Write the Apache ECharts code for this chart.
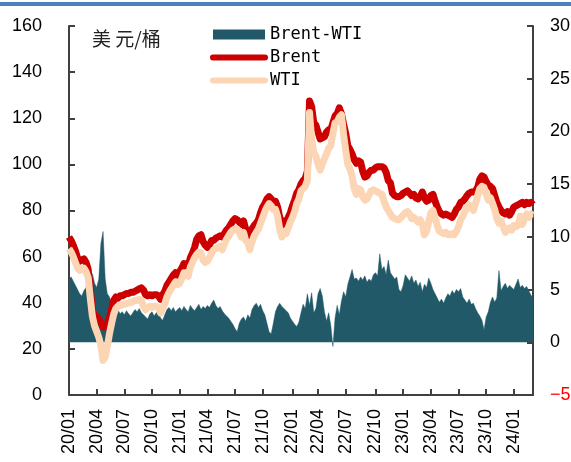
<!DOCTYPE html>
<html>
<head>
<meta charset="utf-8">
<script src="https://cdn.jsdelivr.net/npm/echarts@6/dist/echarts.min.js"></script>
<style>
  html, body { margin: 0; padding: 0; background: #fff; }
  #main { width: 571px; height: 462px; }
</style>
</head>
<body>
<div id="main"></div>
<script>
// weekly points (Fridays) starting 2020-01-03
const firstWeek = '2020-01-03';
const quarterLabels = ['20/01', '20/04', '20/07', '20/10', '21/01', '21/04', '21/07', '21/10',
  '22/01', '22/04', '22/07', '22/10', '23/01', '23/04', '23/07', '23/10', '24/01'];

// Brent, USD/bbl (left axis)
const brent = [
  68.5, 67, 65, 62.5, 59.5, 58, 58.5, 59, 57.5, 54.5, 46, 37, 34,
  34, 33, 31.5, 29.5, 29.5, 31, 33.5, 37, 41, 42.5, 42, 43, 43,
  43.5, 44, 44, 44.5, 44.5, 45, 45.5, 46, 46.5, 45.5, 43.5, 43, 43.5,
  43, 43.5, 43.5, 43, 41.5, 43.5, 45, 47.5, 49, 50.5, 52, 53, 52,
  // 2021
  53.5, 55, 57, 56, 56, 59.5, 61.5, 64, 67.5, 69, 69.5, 66.5, 65,
  64, 65, 67, 67, 68, 68.5, 69, 68.5, 70, 71.5, 72.5, 74, 75.5,
  76.5, 76, 75, 74, 75.5, 72, 71, 69, 72, 73.5, 74.5, 76, 79,
  81.5, 83, 85, 86, 85, 84, 84, 81.5, 77, 73.5, 75.5, 74.5, 77, 79,
  // 2022
  82, 84.5, 87.5, 89, 91.5, 93, 94, 97, 127.5, 125, 118, 117, 114,
  111, 111.5, 112, 114, 115, 115, 118, 121, 122, 124.5, 122, 117.5, 113.5,
  108, 106.5, 104.5, 102, 100.5, 101.5, 101, 97, 94.5, 95, 96.5, 97.5, 97.5,
  98.5, 99, 99, 99, 98.5, 96.5, 93, 92, 87.5, 86.5, 86, 86, 86.5,
  // 2023 - 2024
  87.5, 88, 88.5, 87.5, 86.5, 87, 85.5, 85, 86, 88, 85.5, 84, 84.5,
  86.5, 87, 84, 81.5, 79.5, 78.5, 78, 78.5, 78, 77.5, 77, 78.5, 80.5,
  81.5, 83.5, 84, 85, 86.5, 87.5, 88, 88, 88.5, 90, 93.5, 95, 94.5,
  92.5, 91, 90.5, 89.5, 86.5, 83.5, 81.5, 80, 79, 78.5, 79.5, 78, 79.5,
  81.5, 82, 82.5, 83, 83.5, 82.5, 83.5, 83, 83.5, 82.5
];

// WTI, USD/bbl (left axis)
const wti = [
  63.5, 62, 60, 57.5, 55, 54, 54.5, 55, 53.5, 51, 42, 34, 30,
  27.5, 25, 21.5, 15, 16.5, 21, 26.5, 31, 35, 37.5, 38.5, 39, 39,
  39.5, 39.5, 40, 40, 40.5, 41, 41, 41.5, 41, 38.5, 37, 38, 38.5,
  38, 38.5, 38.5, 38, 35.5, 37.5, 39.5, 42.5, 44.5, 46, 47.5, 49, 48,
  // 2021
  48.5, 50.5, 53, 52, 51.5, 55.5, 57.5, 59.5, 61, 62, 61.5, 58.5, 57.5,
  58, 59.5, 61.5, 63, 63.5, 64, 64.5, 63, 65.5, 67.5, 69, 70.5, 71.5,
  72, 72, 70.5, 68.5, 70.5, 67, 66, 63, 66.5, 69, 70.5, 72, 74.5,
  77, 79.5, 81.5, 83, 82, 80.5, 80.5, 77.5, 72, 68.5, 71, 70, 72.5, 75,
  // 2022
  77, 79.5, 83, 85, 88.5, 89.5, 90.5, 93, 122.5, 111, 105, 103.5, 100,
  97.5, 100, 102.5, 104.5, 107, 108, 113.5, 118, 118.5, 120.5, 121.5, 113, 106,
  100, 98, 95, 89.5, 87, 89.5, 89, 86, 84.5, 85, 87, 88.5, 89,
  88.5, 88, 87.5, 87, 84, 81.5, 80, 78.5, 77, 76.5, 76, 76, 77,
  // 2023 - 2024
  78, 79, 79.5, 78.5, 76.5, 77, 76, 75, 76, 74, 69.5, 71, 75,
  79, 80, 77, 73.5, 71, 70.5, 70, 70.5, 69.5, 69.5, 70, 69.5, 71,
  73, 76, 77.5, 79.5, 81.5, 82.5, 81, 80, 83, 86.5, 89.5, 90.5, 90,
  87, 84.5, 85.5, 83, 80.5, 76.5, 74.5, 75.5, 73, 70.5, 72, 72.5, 71.5,
  73.5, 73, 73.5, 77.5, 74, 76.5, 78.5, 77, 78.5, 78
];

// Brent-WTI spread, USD/bbl (right axis)
const spread = [
  6.0, 6.2, 5.8, 5.4, 5.0, 4.6, 4.4, 4.9, 5.2, 4.8, 4.2, 6.5, 5.6,
  5.2, 6.0, 9.4, 10.5, 6.0, 4.6, 4.3, 3.6, 3.0, 2.8, 3.1, 2.7, 2.9,
  2.6, 3.0, 2.7, 2.5, 2.8, 3.1, 2.9, 3.2, 2.8, 2.6, 2.4, 2.2, 2.7,
  2.9, 2.5, 2.8, 3.0, 2.3, 2.1, 2.6, 3.1, 3.3, 3.0, 3.3, 2.9, 3.1,
  // 2021
  3.3, 3.0, 3.4, 3.1, 2.9, 3.5, 3.2, 3.0, 3.3, 3.6, 3.1, 3.4, 3.2,
  3.5, 3.3, 3.7, 4.0, 3.5, 3.2, 3.4, 3.0, 2.7, 2.5, 2.3, 2.0, 1.7,
  1.3, 1.0, 1.8, 2.2, 2.4, 2.0, 2.6, 2.3, 3.1, 3.5, 3.7, 3.3, 3.6,
  3.0, 2.6, 1.8, 1.0, 0.8, 1.8, 2.9, 3.4, 3.7, 3.4, 3.2, 3.0, 2.8, 2.3,
  // 2022
  2.0, 1.7, 1.5, 1.9, 2.8, 3.6, 3.2, 4.6, 3.5, 4.7, 2.8, 3.2, 4.6,
  5.1, 4.4, 2.9, 2.0, 2.8, 1.6, -0.4, 2.3, 3.5, 2.6, 3.9, 4.8, 4.3,
  5.5, 6.2, 6.9, 6.0, 6.1, 5.8, 6.2, 5.9, 6.3, 5.7, 6.0, 5.8, 6.4,
  6.6, 6.3, 8.4, 6.9, 7.2, 6.4, 7.8, 6.6, 6.3, 6.0, 6.2, 5.0, 4.8,
  // 2023 - 2024
  5.4, 6.4, 6.1, 5.8, 6.3, 5.6, 5.9, 5.3, 5.7, 4.8, 5.5, 5.2, 6.1,
  5.6, 5.0, 4.6, 4.2, 3.8, 4.1, 3.7, 4.2, 4.6, 4.4, 4.9, 4.6, 5.0,
  4.8, 5.1, 4.3, 4.0, 3.7, 4.1, 3.6, 3.7, 3.2, 2.8, 2.5, 2.1, 1.2,
  2.4, 2.9, 3.8, 4.3, 3.8, 4.2, 6.8, 4.9, 5.3, 5.6, 5.1, 5.4, 5.2,
  5.0, 5.5, 6.0, 5.2, 5.4, 5.1, 5.3, 4.9, 4.5, 4.1
];

// category dates, one per week
const weeks = [];
for (let i = 0; i < brent.length; i++) {
  const d = new Date(Date.parse(firstWeek + 'T00:00:00Z') + i * 7 * 86400000);
  weeks.push(d.toISOString().slice(0, 10));
}
function weekLabel(s) {
  return s.slice(2, 4) + '/' + s.slice(5, 7);
}
function isQuarterStart(i) {
  const lab = weekLabel(weeks[i]);
  return quarterLabels.indexOf(lab) >= 0 && (i === 0 || weekLabel(weeks[i - 1]) !== lab);
}

const axisColor = '#404040';
const labelFont = { fontFamily: 'Liberation Sans', fontSize: 18, color: '#000' };

const chart = echarts.init(document.getElementById('main'), null, { renderer: 'canvas' });
chart.setOption({
  animation: false,
  backgroundColor: '#fff',
  grid: { left: 69, right: 38, top: 26, bottom: 67, containLabel: false, outerBoundsMode: 'none' },
  graphic: [
    { type: 'rect', left: 0, top: 2, shape: { width: 571, height: 4 }, style: { fill: '#4F81BD' } },
    { type: 'text', left: 92, top: 29, style: { text: '美 元/桶', font: '19px "Noto Sans CJK SC"', fill: '#222' } }
  ],
  legend: {
    orient: 'vertical',
    left: 210,
    top: 26,
    padding: 0,
    itemWidth: 52,
    itemHeight: 10,
    itemGap: 6,
    textStyle: { fontFamily: 'DejaVu Sans Mono', fontSize: 17, color: '#000' },
    data: [
      { name: 'Brent-WTI', icon: 'rect' },
      { name: 'Brent', itemStyle: { opacity: 0 }, lineStyle: { width: 6, cap: 'round' } },
      { name: 'WTI', itemStyle: { opacity: 0 }, lineStyle: { width: 6, cap: 'round' } }
    ]
  },
  xAxis: {
    type: 'category',
    data: weeks,
    boundaryGap: false,
    axisLine: { onZero: false, lineStyle: { color: axisColor, width: 2 } },
    axisTick: { inside: true, length: 6, interval: isQuarterStart, lineStyle: { color: axisColor, width: 2 } },
    axisLabel: Object.assign({
      rotate: 90, margin: 14, interval: isQuarterStart,
      formatter: v => weekLabel(v)
    }, labelFont),
    splitLine: { show: false }
  },
  yAxis: [
    {
      type: 'value', min: 0, max: 160, interval: 20,
      axisLine: { show: true, lineStyle: { color: axisColor, width: 2 } },
      axisTick: { show: true, inside: true, length: 6, lineStyle: { color: axisColor, width: 2 } },
      axisLabel: Object.assign({ margin: 27 }, labelFont),
      splitLine: { show: false }
    },
    {
      type: 'value', min: -5, max: 30, interval: 5, position: 'right',
      axisLine: { show: true, onZero: false, lineStyle: { color: axisColor, width: 2 } },
      axisTick: { show: true, inside: true, length: 6, lineStyle: { color: axisColor, width: 2 } },
      axisLabel: Object.assign({
        margin: 17,
        formatter: v => v < 0 ? '{r|−' + Math.abs(v) + '}' : String(v),
        rich: { r: { color: '#FF0000', fontFamily: 'Liberation Sans', fontSize: 18 } }
      }, labelFont),
      splitLine: { show: false }
    }
  ],
  series: [
    {
      name: 'Brent-WTI', type: 'line', yAxisIndex: 1, data: spread,
      symbol: 'none', itemStyle: { color: '#215968' },
      lineStyle: { width: 0.5, color: '#215968' },
      areaStyle: { color: '#215968', opacity: 1 }
    },
    {
      name: 'Brent', type: 'line', yAxisIndex: 0, data: brent,
      symbol: 'none', itemStyle: { color: '#CC0000' },
      lineStyle: { width: 7, color: '#CC0000', join: 'round' }
    },
    {
      name: 'WTI', type: 'line', yAxisIndex: 0, data: wti,
      symbol: 'none', itemStyle: { color: '#FCD5B5' },
      lineStyle: { width: 7, color: '#FCD5B5', join: 'round' }
    }
  ]
});
</script>
</body>
</html>
